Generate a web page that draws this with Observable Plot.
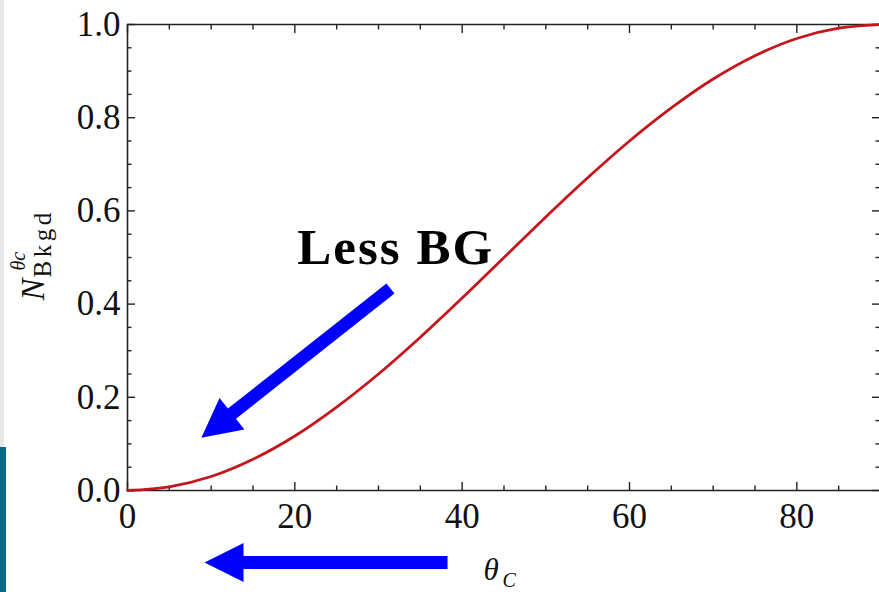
<!DOCTYPE html>
<html><head><meta charset="utf-8">
<script src="https://cdn.jsdelivr.net/npm/d3@7"></script>
<script src="https://cdn.jsdelivr.net/npm/@observablehq/plot@0.6"></script>
<style>
html,body{margin:0;padding:0;background:#fff;width:879px;height:592px;overflow:hidden;position:relative}
#chart{position:absolute;left:0;top:0}
#strip1{position:absolute;left:0;top:0;width:4px;height:447px;background:#e8e8e8}
#strip2{position:absolute;left:0;top:447px;width:6px;height:145px;background:#0b6b86}
</style></head><body>
<div id="chart"></div>
<div id="strip1"></div><div id="strip2"></div>
<script>
// curve
const theta = [0,5,10,15,20,25,30,35,40,45,50,55,60,65,70,75,80,85,90];
const nBkgd = [0,0.008,0.030,0.067,0.117,0.179,0.250,0.329,0.413,0.500,0.587,0.671,0.750,0.821,0.883,0.933,0.970,0.992,1.0];
const xMajorTicks = [0,20,40,60,80];
const xTickLabels = ["0","20","40","60","80"];
const xMinorTicks = [5,10,15,25,30,35,45,50,55,65,70,75,85];
const yMajorTicks = [0,0.2,0.4,0.6,0.8,1.0];
const yTickLabels = ["0.0","0.2","0.4","0.6","0.8","1.0"];
const yMinorTicks = [0.05,0.1,0.15,0.25,0.3,0.35,0.45,0.5,0.55,0.65,0.7,0.75,0.85,0.9,0.95];
const annotationText = "Less BG";
const xLabelMain = "θ", xLabelSub = "C";
const yLabelMain = "N", yLabelSup = "θc", yLabelSub = "Bkgd";

const curve = theta.map((t, i) => ({theta: t, n: nBkgd[i]}));
const serif = "'Liberation Serif','Times New Roman',serif";
const blank = () => "";

const arrowShape = (w, hl, hw) => ({
  draw(ctx, l) {
    ctx.moveTo(-w / 2, 0);
    ctx.lineTo(-w / 2, -(l - hl));
    ctx.lineTo(-hw, -(l - hl));
    ctx.lineTo(0, -l);
    ctx.lineTo(hw, -(l - hl));
    ctx.lineTo(w / 2, -(l - hl));
    ctx.lineTo(w / 2, 0);
    ctx.closePath();
  }
});

const tickStyle = {stroke: "#222", strokeWidth: 1.4, label: null};

const plot = Plot.plot({
  width: 879, height: 592,
  marginLeft: 127, marginRight: 0, marginTop: 24, marginBottom: 102,
  x: {domain: [0, 90], range: [127, 880], label: null},
  y: {domain: [0, 1], range: [490, 24], label: null},
  style: {fontFamily: serif, background: "transparent", color: "#111"},
  marks: [
    // ticks (inward)
    Plot.axisX(xMajorTicks, {anchor: "bottom", tickSize: -8, tickFormat: blank, ...tickStyle}),
    Plot.axisX(xMinorTicks, {anchor: "bottom", tickSize: -4.5, tickFormat: blank, ...tickStyle}),
    Plot.axisX(xMajorTicks, {anchor: "top", tickSize: -8, tickFormat: blank, ...tickStyle}),
    Plot.axisX(xMinorTicks, {anchor: "top", tickSize: -4.5, tickFormat: blank, ...tickStyle}),
    Plot.axisY(yMajorTicks, {anchor: "left", tickSize: -8, tickFormat: blank, ...tickStyle}),
    Plot.axisY(yMinorTicks, {anchor: "left", tickSize: -4.5, tickFormat: blank, ...tickStyle}),
    Plot.axisY(yMajorTicks, {anchor: "right", tickSize: -8, tickFormat: blank, ...tickStyle}),
    Plot.axisY(yMinorTicks, {anchor: "right", tickSize: -4.5, tickFormat: blank, ...tickStyle}),
    // tick labels
    Plot.axisX(xMajorTicks, {anchor: "bottom", tickSize: 0, tickPadding: 13, fontSize: 35,
      tickFormat: (d, i) => xTickLabels[i], label: null, fill: "#111"}),
    Plot.axisY(yMajorTicks, {anchor: "left", tickSize: 0, tickPadding: 7, fontSize: 35,
      tickFormat: (d, i) => yTickLabels[i], label: null, fill: "#111"}),
    // frame
    Plot.ruleY([0, 1], {stroke: "#222", strokeWidth: 1.6}),
    Plot.ruleX([0, 90], {stroke: "#222", strokeWidth: 1.6}),
    // curve
    Plot.line(curve, {x: "theta", y: "n", stroke: "#c4161c", strokeWidth: 2.8, curve: "catmull-rom"}),
    // annotation
    Plot.text([annotationText], {x: 20.3, y: 0.487, text: d => d, textAnchor: "start", lineAnchor: "bottom",
      fontSize: 51, fontWeight: "bold", fill: "#000"}),
    Plot.vector([0], {x: 31.43, y: 0.4335, length: 241, rotate: 231.7, anchor: "start",
      shape: arrowShape(13, 39, 20), fill: "#0000ff", stroke: "none"}),
    Plot.vector([0], {x: 38.25, y: -0.1545, length: 243, rotate: 270, anchor: "start",
      shape: arrowShape(13, 39, 19.5), fill: "#0000ff", stroke: "none"}),
    // x label
    Plot.text([xLabelMain], {x: 42.55, y: -0.193, text: d => d, textAnchor: "start", lineAnchor: "bottom",
      fontSize: 31, fontStyle: "italic", fill: "#111"}),
    Plot.text([xLabelSub], {x: 44.82, y: -0.208, text: d => d, textAnchor: "start", lineAnchor: "bottom",
      fontSize: 20, fontStyle: "italic", fill: "#111"}),
    // y label (rotated)
    Plot.text([yLabelMain], {frameAnchor: "left", dx: -84, dy: 43, rotate: -90, text: d => d,
      textAnchor: "start", lineAnchor: "bottom", fontSize: 33, fontStyle: "italic", fill: "#111"}),
    Plot.text([yLabelSup], {frameAnchor: "left", dx: -103, dy: 13, rotate: -90, text: d => d,
      textAnchor: "start", lineAnchor: "bottom", fontSize: 20, fontStyle: "italic", fill: "#111"}),
    Plot.text([yLabelSub], {frameAnchor: "left", dx: -77, dy: 20, rotate: -90, text: d => d,
      textAnchor: "start", lineAnchor: "bottom", fontSize: 25, fill: "#111"})
  ]
});
// letter spacing as in the reference
d3.select(plot).selectAll("text").filter(function() { return this.textContent === annotationText; })
  .attr("letter-spacing", 2);
d3.select(plot).selectAll("text").filter(function() { return this.textContent === yLabelSub; })
  .attr("letter-spacing", 3.5);
document.getElementById("chart").appendChild(plot);
</script>
</body></html>
